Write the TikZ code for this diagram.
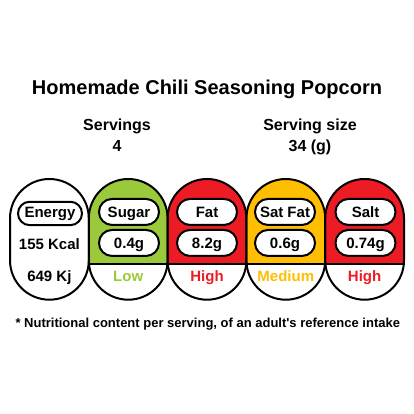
\documentclass[tikz,border=0pt]{standalone}
\usepackage{fontspec}
\setmainfont{Liberation Sans}
\definecolor{lowc}{RGB}{154,202,60}
\definecolor{highc}{RGB}{237,28,36}
\definecolor{medc}{RGB}{255,190,0}
\newcommand{\labfont}{\bfseries\fontsize{15}{18}\selectfont}
\begin{document}
\begin{tikzpicture}[x=1pt,y=-1pt,
  colline/.style={draw=black, line width=2pt},
  pill/.style={draw=black, line width=2pt, fill=white, rounded corners=13pt,
    minimum width=60pt, minimum height=26pt, inner sep=0pt,
    text height=10.7pt, text depth=0pt, font=\labfont, anchor=base},
  plain/.style={font=\labfont, anchor=base, inner sep=0pt},
  level/.style={font=\labfont, anchor=base, inner sep=0pt}
]
\useasboundingbox (0,0) rectangle (414,414);
\fill[white] (0,0) rectangle (414,414);

% titles
\node[anchor=base, inner sep=0pt, font=\bfseries\fontsize{20}{24}\selectfont] (title) at (207,95) {Homemade Chili Seasoning Popcorn};
\node[anchor=base, inner sep=0pt, font=\bfseries\fontsize{16}{19}\selectfont] (serv) at (117,131) {Servings};
\node[anchor=base, inner sep=0pt, font=\bfseries\fontsize{16}{19}\selectfont] (servn) at (117,151.5) {4};
\node[anchor=base, inner sep=0pt, font=\bfseries\fontsize{16}{19}\selectfont] (size) at (310,131) {Serving size};
\node[anchor=base, inner sep=0pt, font=\bfseries\fontsize{16}{19}\selectfont] (sizen) at (310,151.5) {34 (g)};

% columns
\def\ctop{179}\def\cbot{299.7}\def\crad{39.4pt}\def\csplit{264}
% column 1 (white)
\fill[white, rounded corners=\crad] (10,\ctop) rectangle (88.8,\cbot);
% colored columns
\foreach \xa/\xb/\cc in {88.8/167.6/lowc, 167.6/246.4/highc, 246.4/325.2/medc, 325.2/404/highc}{
  \begin{scope}
    \clip[rounded corners=\crad] (\xa,\ctop) rectangle (\xb,\cbot);
    \fill[white] (\xa,\ctop) rectangle (\xb,\cbot);
    \fill[\cc] (\xa,\ctop) rectangle (\xb,\csplit);
  \end{scope}
  \draw[colline] (\xa,\csplit) -- (\xb,\csplit);
}
\foreach \xa/\xb in {10/88.8, 88.8/167.6, 167.6/246.4, 246.4/325.2, 325.2/404}{
  \draw[colline, rounded corners=\crad] (\xa,\ctop) rectangle (\xb,\cbot);
}

% column 1 content
\node[pill, minimum width=64pt, minimum height=23.4pt, rounded corners=11.7pt, text depth=3pt] (energy) at (50,217.3) {Energy};
\node[plain] (kcal) at (49.4,249) {155 Kcal};
\node[plain] (kj) at (49.4,281) {649 Kj};

% sugar
\node[pill] (sugar) at (129,217.3) {Sugar};
\node[pill] (sugarv) at (129,248.3) {0.4g};
\node[level, text=lowc] (sugarl) at (128.2,281) {Low};
% fat
\node[pill] (fat) at (207,217.3) {Fat};
\node[pill] (fatv) at (207,248.3) {8.2g};
\node[level, text=highc] (fatl) at (207,281) {High};
% sat fat
\node[pill] (sat) at (285,217.3) {Sat Fat};
\node[pill] (satv) at (285,248.3) {0.6g};
\node[level, text=medc] (satl) at (285.8,281) {Medium};
% salt
\node[pill] (salt) at (365.5,217.3) {Salt};
\node[pill] (saltv) at (365.5,248.3) {0.74g};
\node[level, text=highc] (saltl) at (364.6,281) {High};

% footnote
\node[anchor=base, inner sep=0pt, font=\bfseries\fontsize{13}{16}\selectfont] (foot) at (207.8,327.5) {* Nutritional content per serving, of an adult\textquotesingle s reference intake};
\end{tikzpicture}
\end{document}
